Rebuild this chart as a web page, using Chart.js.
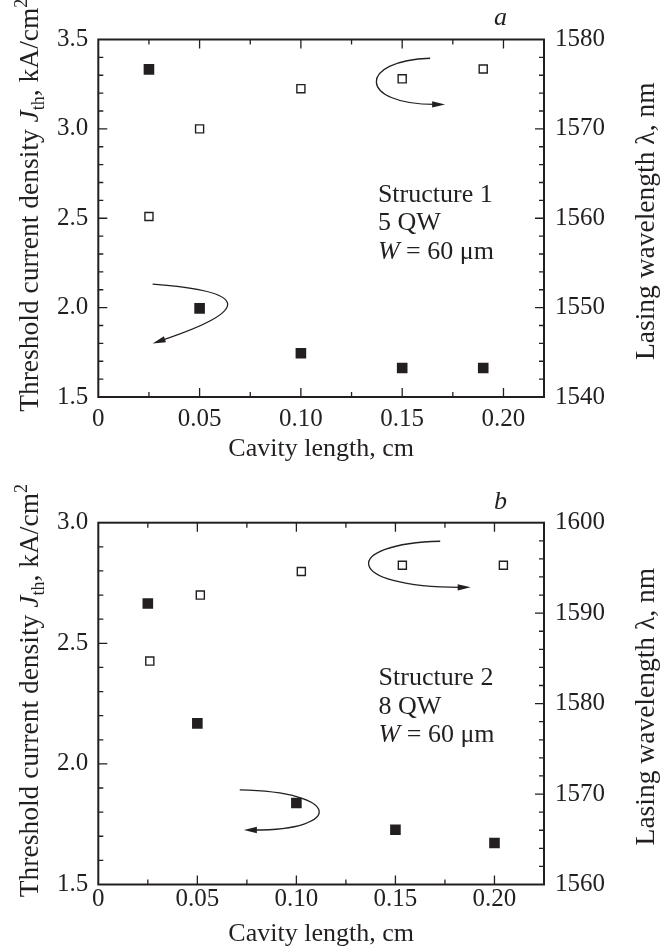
<!DOCTYPE html>
<html>
<head>
<meta charset="utf-8">
<script src="https://cdn.jsdelivr.net/npm/chart.js@4.4.0/dist/chart.umd.min.js"></script>
<style>
  body { margin: 0; background: #fff; }
  .panel { position: absolute; left: 0; }
  canvas { display: block; }
</style>
</head>
<body>
<div class="panel" style="top:0"><canvas id="chartA" width="661" height="470"></canvas></div>
<div class="panel" style="top:470px"><canvas id="chartB" width="661" height="477"></canvas></div>
<script>
// panel a - structure 1
const cavityA = [0.025, 0.05, 0.10, 0.15, 0.19];
const jthA = [3.333, 1.996, 1.745, 1.662, 1.662];
const cavityLambdaA = [0.025, 0.05, 0.10, 0.15, 0.19];
const lambdaA = [1560.2, 1570.0, 1574.5, 1575.6, 1576.7];

// panel b - structure 2
const cavityB = [0.025, 0.05, 0.10, 0.15, 0.20];
const jthB = [2.665, 2.168, 1.838, 1.727, 1.672];
const cavityLambdaB = [0.026, 0.0515, 0.1025, 0.1535, 0.2045];
const lambdaB = [1584.7, 1592.0, 1594.6, 1595.3, 1595.3];

// tick labels
const xTicks = [0, 0.05, 0.10, 0.15, 0.20];
const jthTicksA = [1.5, 2.0, 2.5, 3.0, 3.5];
const lambdaTicksA = [1540, 1550, 1560, 1570, 1580];
const jthTicksB = [1.5, 2.0, 2.5, 3.0];
const lambdaTicksB = [1560, 1570, 1580, 1590, 1600];

// curved arrows (cavity length, J_th): start, turning point, tip
const arrowsA = [
    { from: [0.1638, 3.395], via: [0.1379, 3.258], to: [0.1712, 3.137], round: true },
    { from: [0.0268, 2.132], via: [0.0626, 2.019], to: [0.0268, 1.800], round: false }
];
const arrowsB = [
    { from: [0.1726, 2.923], via: [0.1372, 2.815], to: [0.1880, 2.732], round: true },
    { from: [0.0714, 1.892], via: [0.1108, 1.823], to: [0.0735, 1.726], round: true }
];

// annotation text, [text, italic]
const notesA = [[['Structure 1', false]], [['5 QW', false]], [['W', true], [' = 60 μm', false]]];
const notesB = [[['Structure 2', false]], [['8 QW', false]], [['W', true], [' = 60 μm', false]]];

const INK = '#231f20';
const SERIF = '"Liberation Serif", "Times New Roman", serif';

function fmtX(v) {
    return v === 0 ? '0' : v.toFixed(2);
}

function drawSegments(ctx, segs, x, y) {
    let cx = x;
    segs.forEach(s => {
        ctx.font = s.font;
        ctx.fillText(s.text, cx, y + (s.dy || 0));
        cx += ctx.measureText(s.text).width;
    });
    return cx - x;
}

function segWidth(ctx, segs) {
    let w = 0;
    segs.forEach(s => { ctx.font = s.font; w += ctx.measureText(s.text).width; });
    return w;
}

// inward tick marks, majors longer
function eachTick(scale, step, majors, fn) {
    const n = Math.round((scale.max - scale.min) / step);
    for (let k = 0; k <= n; k++) {
        const v = scale.min + k * step;
        if (v > scale.max + 1e-9) break;
        const major = majors.some(m => Math.abs(m - v) < step / 10);
        fn(scale.getPixelForValue(v), major);
    }
}

function drawArrow(ctx, sx, sy, ar) {
    const p0 = [sx.getPixelForValue(ar.from[0]), sy.getPixelForValue(ar.from[1])];
    const pm = [sx.getPixelForValue(ar.via[0]), sy.getPixelForValue(ar.via[1])];
    const p3 = [sx.getPixelForValue(ar.to[0]), sy.getPixelForValue(ar.to[1])];
    const hl = 13, hw = 3.2;
    let ang;
    ctx.lineWidth = 1.3;
    ctx.beginPath();
    ctx.moveTo(p0[0], p0[1]);
    if (ar.round) {
        // C shape: both control points share the x that puts the midpoint on the turning point
        const cx = (8 * pm[0] - p0[0] - p3[0]) / 6;
        const c1 = [cx, p0[1] + (p3[1] - p0[1]) * 0.05];
        const c2 = [cx, p3[1]];
        ang = Math.atan2(p3[1] - c2[1], p3[0] - c2[0]);
        const base = [p3[0] - hl * 0.8 * Math.cos(ang), p3[1] - hl * 0.8 * Math.sin(ang)];
        ctx.bezierCurveTo(c1[0], c1[1], c2[0], c2[1], base[0], base[1]);
    } else {
        const c = [2 * pm[0] - (p0[0] + p3[0]) / 2, 2 * pm[1] - (p0[1] + p3[1]) / 2];
        ang = Math.atan2(p3[1] - c[1], p3[0] - c[0]);
        const base = [p3[0] - hl * 0.8 * Math.cos(ang), p3[1] - hl * 0.8 * Math.sin(ang)];
        ctx.quadraticCurveTo(c[0], c[1], base[0], base[1]);
    }
    ctx.stroke();
    const bx = p3[0] - hl * Math.cos(ang), by = p3[1] - hl * Math.sin(ang);
    ctx.beginPath();
    ctx.moveTo(p3[0], p3[1]);
    ctx.lineTo(bx + hw * Math.sin(ang), by - hw * Math.cos(ang));
    ctx.lineTo(bx - hw * Math.sin(ang), by + hw * Math.cos(ang));
    ctx.closePath();
    ctx.fill();
}

const decorPlugin = {
    id: 'decor',
    afterDraw(chart, args, opts) {
        const ctx = chart.ctx;
        const a = chart.chartArea;
        const sx = chart.scales.x, sy = chart.scales.y, sy2 = chart.scales.y2;
        ctx.save();
        ctx.strokeStyle = INK;
        ctx.fillStyle = INK;

        // frame
        ctx.lineWidth = 2;
        ctx.strokeRect(a.left, a.top, a.right - a.left, a.bottom - a.top);

        // ticks
        ctx.lineWidth = 1.3;
        ctx.beginPath();
        eachTick(sx, 0.025, opts.xTicks, (p, major) => {
            if (p < a.left + 1 || p > a.right - 1) return;
            const len = major ? 9 : 5;
            ctx.moveTo(p, a.bottom); ctx.lineTo(p, a.bottom - len);
            ctx.moveTo(p, a.top); ctx.lineTo(p, a.top + len);
        });
        eachTick(sy, 0.1, opts.jthTicks, (p, major) => {
            if (p < a.top + 1 || p > a.bottom - 1) return;
            const len = major ? 9 : 5;
            ctx.moveTo(a.left, p); ctx.lineTo(a.left + len, p);
        });
        eachTick(sy2, 2, opts.lambdaTicks, (p, major) => {
            if (p < a.top + 1 || p > a.bottom - 1) return;
            const len = major ? 9 : 5;
            ctx.moveTo(a.right, p); ctx.lineTo(a.right - len, p);
        });
        ctx.stroke();

        opts.arrows.forEach(ar => drawArrow(ctx, sx, sy, ar));

        ctx.textAlign = 'left';
        ctx.textBaseline = 'alphabetic';

        // notes inside the plot
        const nx = sx.getPixelForValue(opts.noteAt[0]);
        const ny = sy.getPixelForValue(opts.noteAt[1]);
        opts.notes.forEach((line, i) => {
            const segs = line.map(([t, it]) => ({ text: t, font: (it ? 'italic ' : '') + '26px ' + SERIF }));
            drawSegments(ctx, segs, nx, ny + i * 28.5);
        });

        // panel letter
        ctx.font = 'italic 26px ' + SERIF;
        ctx.fillText(opts.letter, a.right - 50, a.top + opts.letterDy);

        // x title
        ctx.font = '26px ' + SERIF;
        ctx.textAlign = 'center';
        ctx.fillText('Cavity length, cm', (a.left + a.right) / 2, a.bottom + opts.xTitleDy);
        ctx.textAlign = 'left';

        // left title (rotated)
        const leftSegs = [
            { text: 'Threshold current density ', font: '27.5px ' + SERIF },
            { text: 'J', font: 'italic 27.5px ' + SERIF },
            { text: 'th', font: '18px ' + SERIF, dy: 6 },
            { text: ', kA/cm', font: '27.5px ' + SERIF },
            { text: '2', font: '18px ' + SERIF, dy: -11 }
        ];
        const lw = segWidth(ctx, leftSegs);
        ctx.save();
        ctx.translate(38, (a.top + a.bottom) / 2 - 13);
        ctx.rotate(-Math.PI / 2);
        drawSegments(ctx, leftSegs, -lw / 2, 0);
        ctx.restore();

        // right title (rotated)
        ctx.save();
        ctx.translate(654, (a.top + a.bottom) / 2 + 3);
        ctx.rotate(-Math.PI / 2);
        ctx.font = '27.5px ' + SERIF;
        ctx.textAlign = 'center';
        ctx.fillText('Lasing wavelength λ, nm', 0, 0);
        ctx.restore();

        ctx.restore();
    }
};

function makePanel(id, p) {
    const tickFont = { family: SERIF, size: 25, lineHeight: 1.2 };
    return new Chart(document.getElementById(id), {
        type: 'scatter',
        data: {
            datasets: [{
                label: 'Threshold current density',
                data: p.cavity.map((x, i) => ({ x: x, y: p.jth[i] })),
                yAxisID: 'y',
                pointStyle: 'rect',
                pointRadius: 7.5,
                backgroundColor: INK,
                borderWidth: 0
            }, {
                label: 'Lasing wavelength',
                data: p.cavityLambda.map((x, i) => ({ x: x, y: p.lambda[i] })),
                yAxisID: 'y2',
                pointStyle: 'rect',
                pointRadius: 5.7,
                backgroundColor: '#fff',
                borderColor: INK,
                borderWidth: 1.4
            }]
        },
        options: {
            responsive: false,
            animation: false,
            events: [],
            layout: { padding: { top: p.top, left: 0, right: 0, bottom: 0 } },
            plugins: {
                legend: { display: false },
                tooltip: { enabled: false },
                decor: {
                    xTicks: xTicks, jthTicks: p.jthTicks, lambdaTicks: p.lambdaTicks,
                    arrows: p.arrows, notes: p.notes, noteAt: p.noteAt,
                    letter: p.letter, letterDy: p.letterDy, xTitleDy: p.xTitleDy
                }
            },
            scales: {
                x: {
                    type: 'linear', min: 0, max: p.xMax,
                    afterFit: s => { s.height = p.xAxisH; },
                    afterBuildTicks: s => { s.ticks = xTicks.map(v => ({ value: v })); },
                    ticks: { callback: v => fmtX(v), font: tickFont, color: INK, padding: p.xPad, maxRotation: 0, autoSkip: false },
                    grid: { display: false, drawTicks: false },
                    border: { display: false }
                },
                y: {
                    type: 'linear', position: 'left', min: p.jthTicks[0], max: p.jthTicks[p.jthTicks.length - 1],
                    afterFit: s => { s.width = 98.3; },
                    afterBuildTicks: s => { s.ticks = p.jthTicks.map(v => ({ value: v })); },
                    ticks: { callback: v => v.toFixed(1), font: tickFont, color: INK, padding: 10 },
                    grid: { display: false, drawTicks: false },
                    border: { display: false }
                },
                y2: {
                    type: 'linear', position: 'right', min: p.lambdaTicks[0], max: p.lambdaTicks[p.lambdaTicks.length - 1],
                    afterFit: s => { s.width = 117; },
                    afterBuildTicks: s => { s.ticks = p.lambdaTicks.map(v => ({ value: v })); },
                    ticks: { callback: v => String(v), font: tickFont, color: INK, padding: 11 },
                    grid: { display: false, drawTicks: false },
                    border: { display: false }
                }
            }
        },
        plugins: [decorPlugin]
    });
}

makePanel('chartA', {
    cavity: cavityA, jth: jthA, cavityLambda: cavityLambdaA, lambda: lambdaA,
    jthTicks: jthTicksA, lambdaTicks: lambdaTicksA, arrows: arrowsA, notes: notesA,
    noteAt: [0.138, 2.593], letter: 'a', letterDy: -14.5,
    top: 39.5, xAxisH: 73, xMax: 0.22, xPad: 7.5, xTitleDy: 59
});

makePanel('chartB', {
    cavity: cavityB, jth: jthB, cavityLambda: cavityLambdaB, lambda: lambdaB,
    jthTicks: jthTicksB, lambdaTicks: lambdaTicksB, arrows: arrowsB, notes: notesB,
    noteAt: [0.1415, 2.326], letter: 'b', letterDy: -13.4,
    top: 52.7, xAxisH: 62.5, xMax: 0.225, xPad: 0, xTitleDy: 56.5
});
</script>
</body>
</html>
